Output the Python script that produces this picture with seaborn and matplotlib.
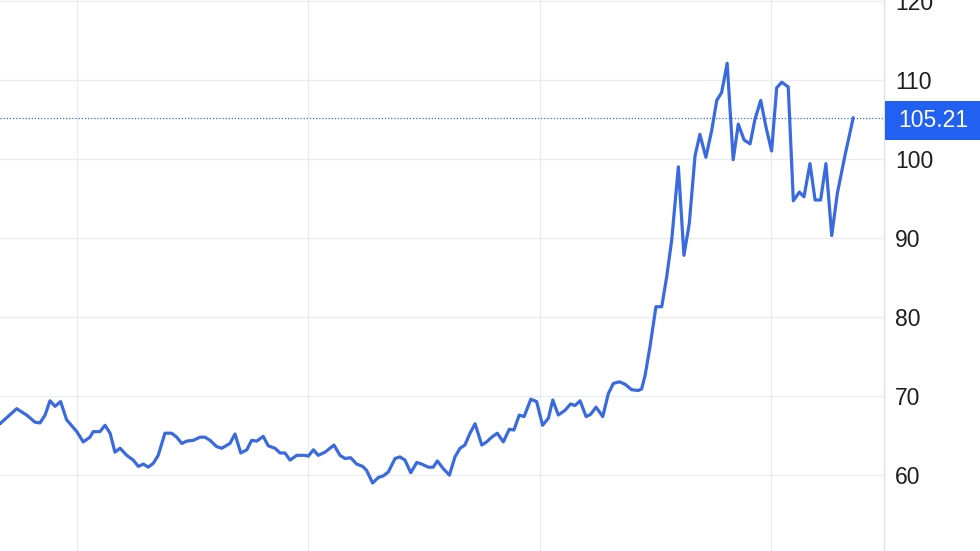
import pandas as pd
import matplotlib.pyplot as plt
import seaborn as sns
from matplotlib.patches import Rectangle

# time as fractional years, price values
years = [
    2020.667, 2020.739, 2020.782, 2020.818, 2020.840, 2020.862, 2020.883, 2020.905, 2020.929, 2020.955,
    2020.999, 2021.027, 2021.056, 2021.070, 2021.099, 2021.121, 2021.143, 2021.164, 2021.186, 2021.215,
    2021.243, 2021.265, 2021.287, 2021.308, 2021.330, 2021.351, 2021.380, 2021.409, 2021.431, 2021.453,
    2021.474, 2021.503, 2021.532, 2021.553, 2021.575, 2021.604, 2021.626, 2021.661, 2021.683, 2021.708,
    2021.734, 2021.755, 2021.777, 2021.805, 2021.827, 2021.856, 2021.878, 2021.899, 2021.921, 2021.950,
    2021.986, 2022.000, 2022.022, 2022.043, 2022.072, 2022.111, 2022.137, 2022.159, 2022.183, 2022.209,
    2022.235, 2022.252, 2022.278, 2022.303, 2022.324, 2022.346, 2022.375, 2022.396, 2022.418, 2022.443,
    2022.469, 2022.490, 2022.519, 2022.540, 2022.558, 2022.584, 2022.610, 2022.634, 2022.656, 2022.677,
    2022.699, 2022.721, 2022.750, 2022.771, 2022.793, 2022.817, 2022.843, 2022.869, 2022.889, 2022.912,
    2022.933, 2022.962, 2022.987, 2023.013, 2023.038, 2023.057, 2023.081, 2023.110, 2023.134, 2023.153,
    2023.175, 2023.201, 2023.221, 2023.244, 2023.273, 2023.297, 2023.319, 2023.345, 2023.369, 2023.398,
    2023.427, 2023.441, 2023.456, 2023.477, 2023.503, 2023.528, 2023.549, 2023.571, 2023.600, 2023.624,
    2023.647, 2023.672, 2023.693, 2023.719, 2023.744, 2023.766, 2023.787, 2023.811, 2023.837, 2023.859,
    2023.884, 2023.910, 2023.931, 2023.956, 2023.979, 2024.003, 2024.025, 2024.047, 2024.075, 2024.097,
    2024.123, 2024.143, 2024.169, 2024.191, 2024.215, 2024.238, 2024.263, 2024.287, 2024.320, 2024.356,
]
prices = [
    66.5, 68.4, 67.6, 66.7, 66.6, 67.6, 69.4, 68.7, 69.3, 67.0,
    65.5, 64.2, 64.8, 65.5, 65.5, 66.3, 65.3, 62.9, 63.4, 62.5,
    61.9, 61.1, 61.4, 61.0, 61.5, 62.5, 65.3, 65.3, 64.8, 64.0,
    64.3, 64.4, 64.8, 64.8, 64.4, 63.6, 63.4, 64.0, 65.2, 62.8,
    63.2, 64.4, 64.3, 64.9, 63.7, 63.4, 62.8, 62.8, 61.9, 62.5,
    62.5, 62.4, 63.2, 62.5, 62.9, 63.8, 62.5, 62.1, 62.2, 61.4,
    61.1, 60.6, 59.0, 59.7, 59.9, 60.4, 62.1, 62.3, 61.9, 60.3,
    61.6, 61.4, 61.0, 61.0, 61.8, 60.8, 60.0, 62.3, 63.4, 63.8,
    65.3, 66.5, 63.8, 64.2, 64.8, 65.3, 64.2, 65.8, 65.7, 67.6,
    67.4, 69.6, 69.3, 66.3, 67.2, 69.5, 67.6, 68.2, 69.0, 68.8,
    69.4, 67.4, 67.7, 68.6, 67.4, 70.3, 71.6, 71.8, 71.5, 70.8,
    70.7, 70.9, 72.6, 76.2, 81.3, 81.3, 85.0, 89.7, 99.0, 87.8,
    91.8, 100.4, 103.1, 100.2, 103.6, 107.4, 108.4, 112.1, 99.9, 104.4,
    102.4, 101.9, 105.0, 107.4, 104.0, 101.0, 109.0, 109.7, 109.1, 94.7,
    95.8, 95.2, 99.4, 94.8, 94.8, 99.4, 90.3, 95.6, 100.4, 105.21,
]
y_ticks = [60, 70, 80, 90, 100, 110, 120]
year_lines = [2021, 2022, 2023, 2024]
last_price = 105.21

df = pd.DataFrame({"year": years, "price": prices})

line_color = "#3a6ae0"
tag_color = "#2160f0"
grid_color = "#eaecef"

sns.set_style("white")
plt.rcParams["font.family"] = ["Liberation Sans", "DejaVu Sans"]

fig = plt.figure(figsize=(9.8, 5.51), dpi=100)
ax = fig.add_axes([0, 0, 884 / 980, 1])

sns.lineplot(data=df, x="year", y="price", color=line_color, linewidth=2.3, ax=ax)

ax.set_xlim(2020.667, 2024.489)
ax.set_ylim(50.4, 120.1)

# grid
ax.set_yticks(y_ticks)
ax.set_xticks(year_lines)
ax.grid(True, color=grid_color, linewidth=1.0)
ax.set_axisbelow(True)

# axis on the right
ax.yaxis.tick_right()
ax.tick_params(axis="y", length=0, pad=8, labelsize=16.5, labelcolor="#1e1e1e")
ax.tick_params(axis="x", length=0, labelbottom=False)
ax.set_xlabel("")
ax.set_ylabel("")
for side in ["top", "left", "bottom"]:
    ax.spines[side].set_visible(False)
ax.spines["right"].set_color("#dfe2e6")
ax.spines["right"].set_linewidth(1.0)

# last price dotted line and tag
ax.axhline(last_price, color=line_color, linestyle=(0, (1, 1.5)), linewidth=0.9)
trans = ax.get_yaxis_transform()
ax.add_patch(Rectangle((1.001, last_price - 2.8), 0.11, 4.9, transform=trans,
                       facecolor=tag_color, edgecolor="none", clip_on=False, zorder=5))
ax.text(1.016, last_price - 0.35, f"{last_price:.2f}", transform=trans, color="white",
        fontsize=16.5, va="center", ha="left", zorder=6)

plt.savefig("out.png", dpi=100)
